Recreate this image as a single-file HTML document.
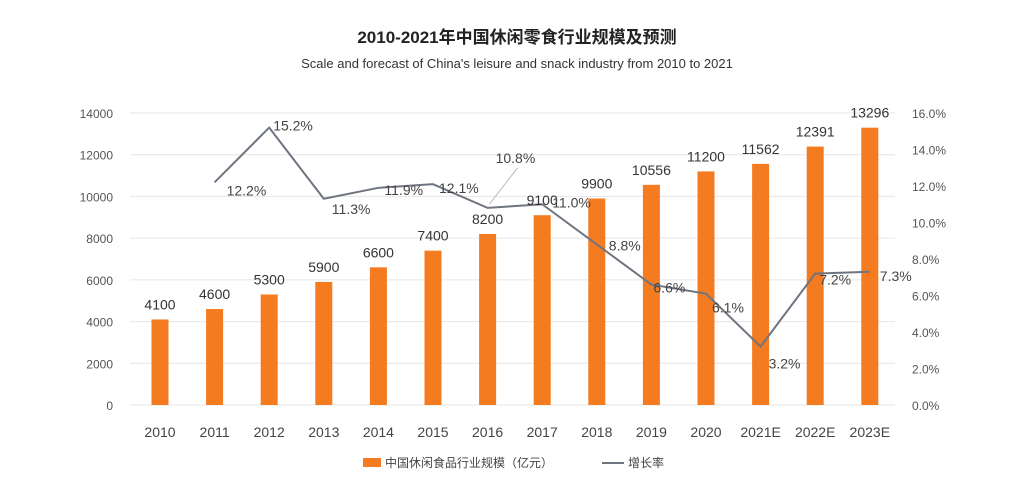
<!DOCTYPE html>
<html><head><meta charset="utf-8">
<style>
body{margin:0;background:#fff;}
svg{display:block;font-family:"Liberation Sans","Noto Sans CJK SC",sans-serif;}
</style></head>
<body>
<svg id="chart" width="1034" height="496" viewBox="0 0 1034 496" xmlns="http://www.w3.org/2000/svg">
<text x="517" y="43" text-anchor="middle" font-size="17" font-weight="bold" fill="#222">2010-2021年中国休闲零食行业规模及预测</text>
<text x="517" y="68" text-anchor="middle" font-size="13" fill="#333">Scale and forecast of China's leisure and snack industry from 2010 to 2021</text>
<g id="grid"></g><g id="bars"></g><g id="line"></g><g id="labels"></g><g id="axes"></g>
<g>
<rect x="363" y="458" width="18" height="9" fill="#f47b20"/>
<text x="385" y="467" font-size="12" fill="#444">中国休闲食品行业规模（亿元）</text>
<line x1="602" y1="463" x2="624" y2="463" stroke="#6f7580" stroke-width="2"/>
<text x="628" y="467" font-size="12" fill="#444">增长率</text>
</g>
</svg>
<script>
const categories=["2010","2011","2012","2013","2014","2015","2016","2017","2018","2019","2020","2021E","2022E","2023E"];
const sizeValues=[4100,4600,5300,5900,6600,7400,8200,9100,9900,10556,11200,11562,12391,13296];
const growthValues=[null,12.2,15.2,11.3,11.9,12.1,10.8,11.0,8.8,6.6,6.1,3.2,7.2,7.3];
const leftTicks=[0,2000,4000,6000,8000,10000,12000,14000];
const rightTicks=[0,2,4,6,8,10,12,14,16];
const NS="http://www.w3.org/2000/svg";
const X0=160,STEP=54.6,Y0=405,YT=113;
const xPos=i=>X0+i*STEP;
const yL=v=>Y0-(v/14000)*(Y0-YT);
const yR=v=>Y0-(v/16)*(Y0-YT);
function mk(tag,attrs,parent,text){const e=document.createElementNS(NS,tag);for(const k in attrs)e.setAttribute(k,attrs[k]);if(text!==undefined)e.textContent=text;parent.appendChild(e);return e;}
const grid=document.getElementById('grid'),bars=document.getElementById('bars'),line=document.getElementById('line'),labels=document.getElementById('labels'),axes=document.getElementById('axes');
leftTicks.forEach(t=>{
 const g=mk('line',{x1:130,x2:895,y1:yL(t),y2:yL(t),stroke:'#e6e6e6','stroke-width':1},grid);
 
 
 const l=mk('text',{x:113,y:yL(t)+5,'text-anchor':'end','font-size':12,fill:'#555'},axes,String(t));
 
 
});
rightTicks.forEach(t=>{
 const l=mk('text',{x:912,y:yR(t)+5,'font-size':12,fill:'#555'},axes,t.toFixed(1)+'%');
 
 
});
categories.forEach((c,i)=>{
 const b=mk('rect',{x:xPos(i)-8.5,y:yL(sizeValues[i]),width:17,height:Y0-yL(sizeValues[i]),fill:'#f47b20'},bars);
 
 
 const v=mk('text',{x:xPos(i),y:yL(sizeValues[i])-10,'text-anchor':'middle','font-size':14,fill:'#333'},labels,String(sizeValues[i]));
 
 
 const xl=mk('text',{x:xPos(i),y:437,'text-anchor':'middle','font-size':14,fill:'#444'},axes,c);
 
 
});
const pts=[];growthValues.forEach((v,i)=>{if(v!==null)pts.push([xPos(i),yR(v),v,i]);});
const pl=mk('polyline',{points:pts.map(p=>p[0]+','+p[1]).join(' '),fill:'none',stroke:'#6f7580','stroke-width':2},line);


const offs={1:[12,8],2:[4,-2],3:[8,10],4:[6,2],5:[6,4],6:[8,-50],7:[10,-2],8:[12,1],9:[2,3],10:[6,14],11:[8,17],12:[4,6],13:[10,4]};
pts.forEach(p=>{
 const o=offs[p[3]]||[6,0];
 const t=mk('text',{x:p[0]+o[0],y:p[1]+o[1]+5,'font-size':14,fill:'#444'},labels,p[2].toFixed(1)+'%');
 
 
 if(p[3]===6){const ld=mk('line',{x1:p[0]+2,y1:p[1]-4,x2:p[0]+30,y2:p[1]-40,stroke:'#bbb','stroke-width':1},labels);
 
 }
});
</script>
</body></html>
